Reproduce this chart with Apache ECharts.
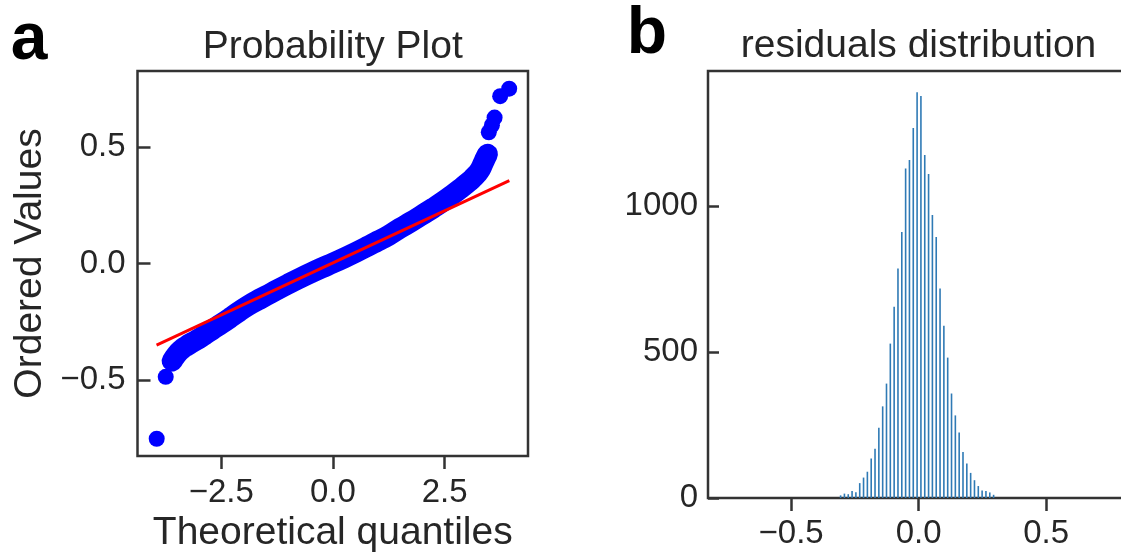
<!DOCTYPE html>
<html>
<head>
<meta charset="utf-8">
<script src="https://cdn.jsdelivr.net/npm/echarts@6/dist/echarts.min.js"></script>
<style>
html,body{margin:0;padding:0;background:#fff;}
#chart{width:1121px;height:552px;}
</style>
</head>
<body>
<div id="chart"></div>
<script>
// ---------- Data ----------
// Panel a: probability plot, dense band of ordered values
const qqBandX = [-3.60,-3.50,-3.40,-3.28,-3.15,-3.00,-2.85,-2.70,-2.50,-2.30,-2.10,-1.90,-1.70,-1.50,-1.25,-1.00,-0.75,-0.50,-0.25,0.00,0.25,0.50,0.75,1.00,1.25,1.50,1.75,2.00,2.25,2.50,2.70,2.85,3.00,3.12,3.22,3.30,3.36,3.42,3.46];
const qqBandY = [-0.418,-0.390,-0.370,-0.353,-0.338,-0.322,-0.302,-0.283,-0.258,-0.232,-0.205,-0.180,-0.158,-0.138,-0.112,-0.087,-0.063,-0.040,-0.018,0.003,0.025,0.048,0.072,0.097,0.122,0.152,0.180,0.210,0.240,0.272,0.300,0.322,0.345,0.365,0.385,0.405,0.430,0.455,0.470];
// Panel a: isolated tail points
const qqTailX = [-3.947,-3.745,3.49,3.56,3.62,3.745,3.947];
const qqTailY = [-0.752,-0.486,0.565,0.595,0.628,0.720,0.752];
// Panel a: least-squares fit line end points
const fitX = [-3.95, 3.95];
const fitY = [-0.350, 0.357];
// Panel a ticks
const qqXTicks = [-2.5, 0, 2.5];
const qqYTicks = [-0.5, 0, 0.5];

// Panel b: histogram of residuals (bin centres and counts)
const histX = [-0.306,-0.291,-0.276,-0.261,-0.246,-0.231,-0.216,-0.201,-0.186,-0.171,-0.156,-0.141,-0.126,-0.111,-0.096,-0.081,-0.066,-0.051,-0.036,-0.021,-0.006,0.009,0.024,0.039,0.054,0.069,0.084,0.099,0.114,0.129,0.144,0.159,0.174,0.189,0.204,0.219,0.234,0.249,0.264,0.279,0.294];
const histY = [9,15,13,24,20,51,70,90,135,169,241,314,392,529,655,786,911,1129,1158,1268,1390,1377,1175,1110,970,894,718,590,481,358,283,224,158,118,86,61,41,26,24,19,11];
const histXTicks = [-0.5, 0, 0.5];
const histYTicks = [0, 500, 1000];

// ---------- Chart ----------
const FONT = "'Liberation Sans', Arial, Helvetica, sans-serif";
const TXT = '#262626';
const AX = '#333333';
const fmtDec = v => v.toFixed(1).replace('-', '\u2212');
const fmtInt = v => String(Math.round(v));

const zip = (a, b) => a.map((v, i) => [v, b[i]]);

const chart = echarts.init(document.getElementById('chart'), null, {renderer: 'canvas'});

const tickStyle = {color: AX, width: 2.5};
const hiddenLine = {show: false, onZero: false};

const option = {
  animation: false,
  backgroundColor: '#ffffff',
  textStyle: {fontFamily: FONT},
  grid: [
    {left: 137.5, top: 71, width: 390.5, height: 385, show: true, borderColor: AX, borderWidth: 2.5, backgroundColor: 'transparent', containLabel: false, outerBoundsMode: 'none'},
    {left: 708, top: 71, width: 421, height: 427, show: true, borderColor: AX, borderWidth: 2.5, backgroundColor: 'transparent', containLabel: false, outerBoundsMode: 'none'}
  ],
  xAxis: [
    {
      gridIndex: 0, type: 'value', min: -4.377, max: 4.368, position: 'bottom',
      axisLine: hiddenLine, splitLine: {show: false},
      axisTick: {show: true, customValues: qqXTicks, length: 13, lineStyle: tickStyle},
      axisLabel: {customValues: qqXTicks, formatter: fmtDec, fontSize: 33, color: TXT, margin: 20, fontFamily: FONT},
      name: 'Theoretical quantiles', nameLocation: 'middle', nameGap: 57,
      nameTextStyle: {fontSize: 39, color: TXT, fontFamily: FONT}
    },
    {
      gridIndex: 1, type: 'value', min: -0.826, max: 0.825, position: 'bottom',
      axisLine: hiddenLine, splitLine: {show: false},
      axisTick: {show: true, customValues: histXTicks, length: 13, lineStyle: tickStyle},
      axisLabel: {customValues: histXTicks, formatter: fmtDec, fontSize: 33, color: TXT, margin: 19, fontFamily: FONT}
    }
  ],
  yAxis: [
    {
      gridIndex: 0, type: 'value', min: -0.826, max: 0.828, position: 'left',
      axisLine: hiddenLine, splitLine: {show: false},
      axisTick: {show: true, inside: true, customValues: qqYTicks, length: 13, lineStyle: tickStyle},
      axisLabel: {customValues: qqYTicks, formatter: fmtDec, fontSize: 33, color: TXT, margin: 12, fontFamily: FONT},
      name: 'Ordered Values', nameLocation: 'middle', nameGap: 88, nameRotate: 90,
      nameTextStyle: {fontSize: 39, color: TXT, fontFamily: FONT}
    },
    {
      gridIndex: 1, type: 'value', min: 0, max: 1463, position: 'left',
      axisLine: hiddenLine, splitLine: {show: false},
      axisTick: {show: true, inside: true, customValues: histYTicks, length: 11, lineStyle: tickStyle},
      axisLabel: {customValues: histYTicks, formatter: fmtInt, fontSize: 33, color: TXT, margin: 10, fontFamily: FONT}
    }
  ],
  series: [
    {
      name: 'ordered values', type: 'line', xAxisIndex: 0, yAxisIndex: 0,
      data: zip(qqBandX, qqBandY), smooth: true,
      showSymbol: true, symbol: 'circle', symbolSize: 18,
      itemStyle: {color: '#0000ff'},
      lineStyle: {color: '#0000ff', width: 21, cap: 'round', join: 'round'},
      z: 2
    },
    {
      name: 'tail points', type: 'scatter', xAxisIndex: 0, yAxisIndex: 0,
      data: zip(qqTailX, qqTailY), symbol: 'circle', symbolSize: 16,
      itemStyle: {color: '#0000ff', opacity: 1}, z: 2
    },
    {
      name: 'fit', type: 'line', xAxisIndex: 0, yAxisIndex: 0,
      data: zip(fitX, fitY), showSymbol: false,
      lineStyle: {color: '#ff0000', width: 3}, z: 5
    },
    {
      name: 'residuals', type: 'bar', xAxisIndex: 1, yAxisIndex: 1,
      data: zip(histX, histY), barWidth: 1.6,
      itemStyle: {color: '#2f7ab5'}, z: 2
    }
  ],
  graphic: [
    {type: 'text', x: 29, y: 41, style: {text: 'a', font: 'bold 66px ' + FONT, fill: '#000', align: 'center', verticalAlign: 'middle'}},
    {type: 'text', x: 647, y: 35, style: {text: 'b', font: 'bold 66px ' + FONT, fill: '#000', align: 'center', verticalAlign: 'middle'}},
    {type: 'text', x: 332.7, y: 47, style: {text: 'Probability Plot', font: '39px ' + FONT, fill: TXT, align: 'center', verticalAlign: 'middle'}},
    {type: 'text', x: 918.5, y: 46.5, style: {text: 'residuals distribution', font: '39px ' + FONT, fill: TXT, align: 'center', verticalAlign: 'middle'}}
  ]
};

chart.setOption(option);
</script>
</body>
</html>
